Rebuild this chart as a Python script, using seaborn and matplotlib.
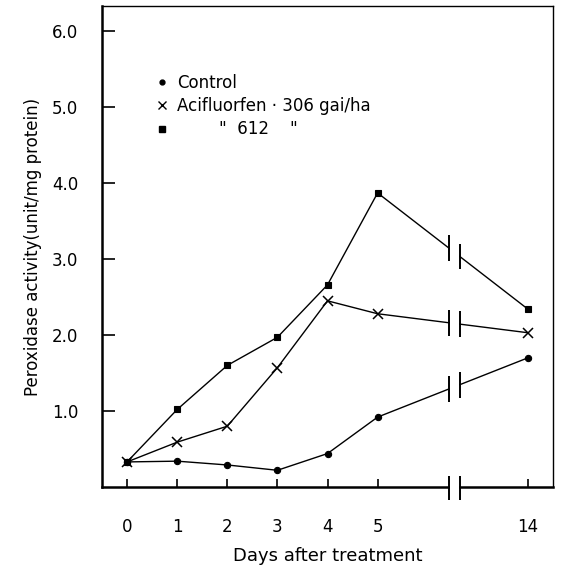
import numpy as np
import pandas as pd
import matplotlib
matplotlib.use("Agg")
import matplotlib.pyplot as plt
from matplotlib.lines import Line2D
import seaborn as sns

# ---- data ----
day_labels = ["0", "1", "2", "3", "4", "5", "14"]
day_positions = [0, 1, 2, 3, 4, 5, 8]          # axis is broken between 5 and 14
control = [0.33, 0.34, 0.29, 0.22, 0.44, 0.92, 1.70]
acif_306 = [0.33, 0.59, 0.80, 1.57, 2.45, 2.28, 2.03]
acif_612 = [0.33, 1.02, 1.60, 1.97, 2.66, 3.87, 2.34]
series_names = ["Control", "306", "612"]
legend_labels = ["Control", "Acifluorfen · 306 gai/ha",
                 " " * 8 + '"' + "  " + "612" + " " * 4 + '"']
y_ticks = [1.0, 2.0, 3.0, 4.0, 5.0, 6.0]

df = pd.concat([
    pd.DataFrame({"pos": day_positions, "value": vals, "series": name})
    for name, vals in zip(series_names, [control, acif_306, acif_612])
], ignore_index=True)

sns.set_style("ticks")
plt.rcParams["font.family"] = ["DejaVu Sans"]
plt.rcParams.update({"text.color": "black", "axes.labelcolor": "black",
                     "xtick.color": "black", "ytick.color": "black"})

fig = plt.figure(figsize=(5.61, 5.76), dpi=100)
ax = fig.add_axes([102 / 561, 89 / 576, (553 - 102) / 561, (487 - 6) / 576])

markers = {"Control": "o", "306": "X", "612": "s"}
sns.lineplot(data=df, x="pos", y="value", style="series", markers=markers,
             dashes=False, color="black", linewidth=1.0, legend=False, ax=ax,
             markersize=5, markeredgewidth=0.8, markeredgecolor="black", zorder=2)
for ln in ax.lines:
    ln.set_markeredgecolor("black")
    ln.set_markerfacecolor("black")
    if ln.get_marker() == "X":
        ln.set_marker("x")
        ln.set_markersize(6.5)
        ln.set_markeredgewidth(1.1)
    elif ln.get_marker() == "o":
        ln.set_markersize(4.5)
    elif ln.get_marker() == "s":
        ln.set_markersize(4.2)

ax.set_xlim(-0.5, 8.5)
ax.set_ylim(0, 6.33)

# ---- axis break ----
b0, b1 = 6.42, 6.64
ax.axvspan(b0 + 0.02, b1 - 0.02, ymin=-0.02, ymax=0.985, color="white",
           zorder=3, clip_on=False, lw=0)
for vals in [control, acif_306, acif_612]:
    for bx in (b0, b1):
        yv = np.interp(bx, day_positions, vals)
        ax.plot([bx, bx], [yv - 0.17, yv + 0.17], color="black", lw=1.4,
                zorder=4, solid_capstyle="butt")
for bx in (b0, b1):
    ax.plot([bx, bx], [-0.17, 0.15], color="black", lw=1.4, zorder=4,
            clip_on=False, solid_capstyle="butt")

# ---- ticks / labels ----
ax.set_xticks(day_positions)
ax.set_xticklabels(day_labels)
ax.set_yticks(y_ticks)
ax.set_yticklabels([f"{v:.1f}" for v in y_ticks])
ax.tick_params(axis="x", direction="in", length=6, width=1.2, pad=22,
               labelsize=12, color="black")
ax.tick_params(axis="y", direction="in", length=9.5, width=1.2, pad=17,
               labelsize=12, color="black")
ax.set_xlabel("Days after treatment", fontsize=13, labelpad=8)
ax.set_ylabel("Peroxidase activity(unit/mg protein)", fontsize=12, labelpad=7)

for side in ["left", "bottom"]:
    ax.spines[side].set_linewidth(1.8)
for side in ["top", "right"]:
    ax.spines[side].set_linewidth(1.0)
for sp in ax.spines.values():
    sp.set_color("black")

# ---- legend ----
handles = [
    Line2D([], [], ls="none", marker="o", color="black", markersize=3.5),
    Line2D([], [], ls="none", marker="x", color="black", markersize=5.5, markeredgewidth=1.0),
    Line2D([], [], ls="none", marker="s", color="black", markersize=3.8),
]
leg = ax.legend(handles, legend_labels, loc="upper left", bbox_to_anchor=(0.107, 0.873),
                frameon=False, fontsize=12, handlelength=0.6, handletextpad=0.6,
                labelspacing=0.32, borderaxespad=0)

fig.savefig("out.png", dpi=100)
